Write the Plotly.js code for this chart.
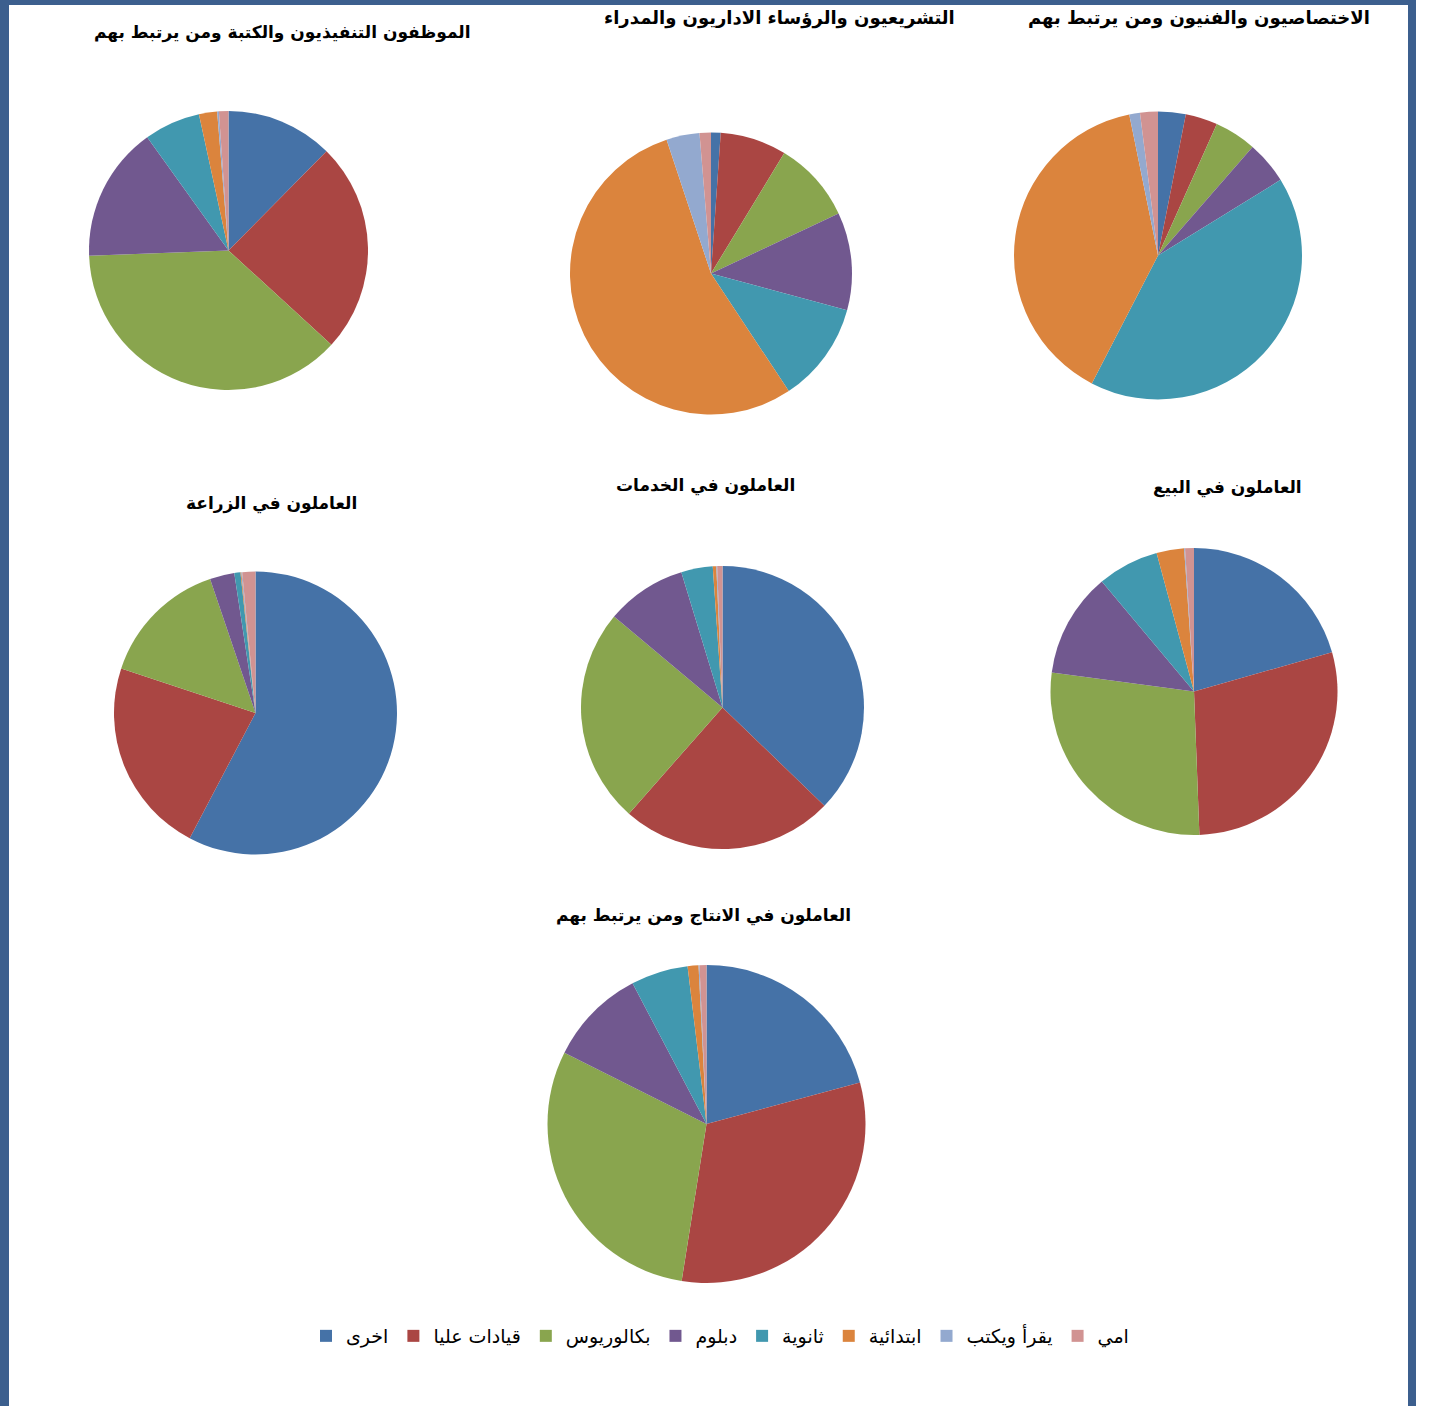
<!DOCTYPE html>
<html>
<head>
<meta charset="utf-8">
<script src="https://cdn.plot.ly/plotly-3.0.1.min.js"></script>
<style>html,body{margin:0;padding:0;background:#fff;}#chart{width:1429px;height:1406px;}</style>
</head>
<body>
<div id="chart"></div>
<script>
// Categories (legend order)
const labels = ["اخرى", "قيادات عليا", "بكالوريوس", "دبلوم", "ثانوية", "ابتدائية", "يقرأ ويكتب", "امي"];

// Chart titles
const titles = [
  "الموظفون التنفيذيون والكتبة ومن يرتبط بهم",
  "التشريعيون والرؤساء الاداريون والمدراء",
  "الاختصاصيون والفنيون ومن يرتبط بهم",
  "العاملون في الزراعة",
  "العاملون في الخدمات",
  "العاملون في البيع",
  "العاملون في الانتاج ومن يرتبط بهم"
];

// Series values (% share per category)
const clerks       = [12.4, 24.4, 37.6, 15.7, 6.5, 2.1, 0.2, 1.1];
const managers     = [1.1, 7.6, 9.3, 11.2, 11.5, 54.2, 3.8, 1.3];
const specialists  = [3.1, 3.6, 4.7, 4.8, 41.4, 39.2, 1.2, 2.0];
const agriculture  = [57.7, 22.4, 14.7, 2.8, 0.7, 0.1, 0.1, 1.5];
const services     = [37.2, 24.3, 24.6, 9.2, 3.6, 0.4, 0.1, 0.6];
const sales        = [20.6, 28.8, 27.7, 11.8, 6.9, 3.1, 0.1, 1.0];
const production   = [20.8, 31.7, 29.9, 9.9, 5.8, 1.1, 0.1, 0.7];

const series = [clerks, managers, specialists, agriculture, services, sales, production];

// Styles / layout
const colors = ["#4572A7", "#AA4643", "#89A54E", "#71588F", "#4198AF", "#DB843D", "#93A9CF", "#D19392"];
const W = 1429, H = 1406;
// pie boxes in pixels: [left, right, top, bottom]
const boxes = [
  [89, 368, 111, 390],
  [570, 852, 132.5, 414.5],
  [1014, 1302, 111.5, 399.5],
  [114, 397, 571.5, 854.5],
  [581, 864, 566, 849],
  [1050.5, 1337.5, 548, 835],
  [547.5, 865.5, 965, 1283]
];
// title positions in pixels: [centerX, centerY] and font sizes
const titlePos = [[282, 33], [779, 18], [1199, 18], [271, 503], [705, 486], [1227, 487], [703, 915]];
const titleSizes = [17, 18, 18, 17, 17, 17, 17];

const traces = series.map((vals, i) => {
  const b = boxes[i];
  return {
    type: "pie",
    labels: labels,
    values: vals,
    sort: false,
    direction: "clockwise",
    rotation: 0,
    textinfo: "none",
    hoverinfo: "label+percent",
    marker: {colors: colors, line: {width: 0}},
    domain: {x: [b[0] / W, b[1] / W], y: [1 - b[3] / H, 1 - b[2] / H]},
    showlegend: i === 0
  };
});

const annotations = titles.map((t, i) => ({
  text: "<b>" + t + "</b>",
  x: titlePos[i][0] / W, y: 1 - titlePos[i][1] / H,
  xref: "paper", yref: "paper", xanchor: "center", yanchor: "middle",
  showarrow: false,
  font: {family: "DejaVu Sans, Arial, sans-serif", size: titleSizes[i], color: "#000"}
}));

const borderColor = "#3C5F8E";
const shapes = [
  {type: "rect", xref: "paper", yref: "paper", x0: 0, x1: 9 / W, y0: 0, y1: 1, fillcolor: borderColor, line: {width: 0}},
  {type: "rect", xref: "paper", yref: "paper", x0: 0, x1: 1416 / W, y0: 1 - 5 / H, y1: 1, fillcolor: borderColor, line: {width: 0}},
  {type: "rect", xref: "paper", yref: "paper", x0: 1408 / W, x1: 1416 / W, y0: 0, y1: 1, fillcolor: borderColor, line: {width: 0}}
];

const layout = {
  width: W, height: H,
  margin: {l: 0, r: 0, t: 0, b: 0},
  paper_bgcolor: "#fff",
  showlegend: true,
  legend: {
    orientation: "h",
    x: 306 / W, y: 1 - 1336 / H,
    xanchor: "left", yanchor: "middle",
    font: {family: "DejaVu Sans, Arial, sans-serif", size: 19, color: "#000"},
    traceorder: "normal"
  },
  annotations: annotations,
  shapes: shapes
};

Plotly.newPlot("chart", traces, layout, {displayModeBar: false, staticPlot: true});
</script>
</body>
</html>
